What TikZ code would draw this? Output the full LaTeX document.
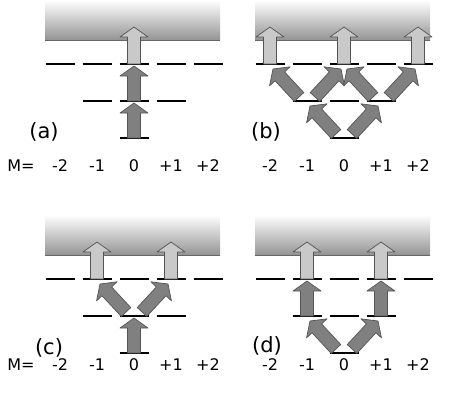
\documentclass[tikz,border=0pt]{standalone}
\usepackage{fontspec}
\setmainfont{DejaVu Sans}
\usetikzlibrary{calc}
\definecolor{xamdam}{gray}{0.5}
\definecolor{xamnhat}{gray}{0.79}
\definecolor{vien}{gray}{0.33}
%%%% mui ten to: #1 kieu, #2 duoi, #3 dinh
\newcommand{\muiten}[3]{%
	\filldraw[#1] let \p1=($#3-#2$), \n1={atan2(\y1,\x1)}, \n2={veclen(\x1,\y1)} in
	[shift={#2},rotate=\n1] (0,6.5) -- (\n2-10,6.5) -- (\n2-10,14) -- (\n2,0) -- (\n2-10,-14) -- (\n2-10,-6.5) -- (0,-6.5) -- cycle;}
%%%% hai mui ten xien tu #1 toi #2 va #3
\newcommand{\chuV}[3]{%
	\muiten{toi}{($#1+(-8,-4)$)}{($#2+(3,5)$)}
	\muiten{toi}{($#1+(8,-4)$)}{($#3+(-3,5)$)}}
\begin{document}
\begin{tikzpicture}[x=1pt,y=-1pt,line join=round]
	\tikzset{toi/.style={fill=xamdam,draw=vien,line width=0.7},
		sang/.style={fill=xamnhat,draw=vien,line width=0.7},
		muc/.style={line width=1.8,black},
		nhan/.style={font=\fontsize{21}{25}\selectfont},
		so/.style={font=\fontsize{16}{19}\selectfont,anchor=base}}
	\useasboundingbox (0,0) rectangle (450,402);
	%%%% vung lien tuc + cac muc nang luong
	\tikzset{bac/.pic={
		\shade[top color=white,bottom color=black!42] (-89,-64) rectangle (86,-24);
		\draw[black!60,line width=0.8] (-89,-24) -- (86,-24);
		\foreach \k in {1,...,5}{
			\draw[muc] ({37*(\k-3)-14.5},0) -- ++(29,0);
			\coordinate (-t\k) at ({37*(\k-3)},0);
			\coordinate (-c\k) at ({37*(\k-3)},-37);
		}
		\foreach \k in {2,3,4}{
			\draw[muc] ({37*(\k-3)-14.5},37) -- ++(29,0);
			\coordinate (-m\k) at ({37*(\k-3)},37);
		}
		\draw[muc] (-14.5,74) -- ++(29,0);
		\coordinate (-b3) at (0,74);
	}}
	\path (134,64) pic (a) {bac};
	\path (344,64) pic (b) {bac};
	\path (134,279) pic (c) {bac};
	\path (344,279) pic (d) {bac};
	%%%% (a)
	\muiten{toi}{(a-b3)}{($(a-m3)+(0,2)$)}
	\muiten{toi}{(a-m3)}{($(a-t3)+(0,2)$)}
	\muiten{sang}{(a-t3)}{(a-c3)}
	%%%% (b)
	\chuV{(b-b3)}{(b-m2)}{(b-m4)}
	\chuV{(b-m2)}{(b-t1)}{(b-t3)}
	\chuV{(b-m4)}{(b-t3)}{(b-t5)}
	\foreach \k in {1,3,5}{\muiten{sang}{(b-t\k)}{(b-c\k)}}
	%%%% (c)
	\muiten{toi}{(c-b3)}{($(c-m3)+(0,2)$)}
	\chuV{(c-m3)}{(c-t2)}{(c-t4)}
	\foreach \k in {2,4}{\muiten{sang}{(c-t\k)}{(c-c\k)}}
	%%%% (d)
	\chuV{(d-b3)}{(d-m2)}{(d-m4)}
	\foreach \k in {2,4}{
		\muiten{toi}{(d-m\k)}{($(d-t\k)+(0,2)$)}
		\muiten{sang}{(d-t\k)}{(d-c\k)}}
	%%%% nhan
	\node[nhan] (la) at (44,132) {(a)};
	\node[nhan] (lb) at (266,132) {(b)};
	\node[nhan] (lc) at (49,348) {(c)};
	\node[nhan] (ld) at (267,346) {(d)};
	\node[so] (ma) at (21,171) {M=};
	\node[so] (mc) at (21,370) {M=};
	\foreach \m [count=\k] in {-2,-1,0,+1,+2}{
		\path (a-t\k) ++(0,107) node[so] (ma\k) {\m};
		\path (b-t\k) ++(0,107) node[so] (mb\k) {\m};
		\path (c-t\k) ++(0,91) node[so] (mc\k) {\m};
		\path (d-t\k) ++(0,91) node[so] (md\k) {\m};
	}
\end{tikzpicture}
\end{document}
